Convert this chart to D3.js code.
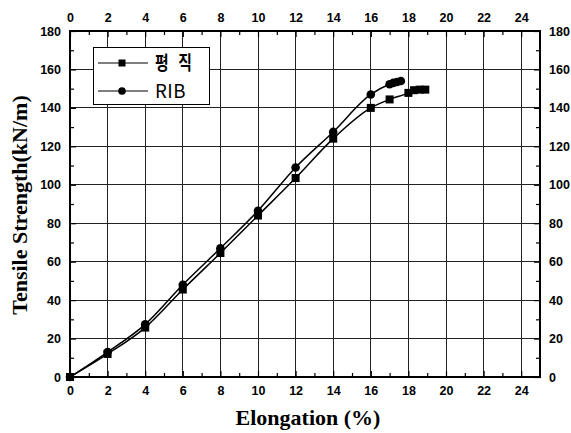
<!DOCTYPE html>
<html>
<head>
<meta charset="utf-8">
<script src="https://cdn.jsdelivr.net/npm/d3@7"></script>
<style>
  body { margin: 0; background: #fff; }
  .tick text { font-family: "Liberation Sans", Arial, sans-serif; font-weight: bold; font-size: 12.5px; }
</style>
</head>
<body>
<div id="chart"></div>
<script>
// data
const plainX = [0, 2, 4, 6, 8, 10, 12, 14, 16, 17, 18, 18.3, 18.6, 18.9];
const plainY = [0, 12, 25.7, 45.5, 64.5, 84, 103.5, 124, 140, 144.4, 147.8, 149.2, 149.5, 149.5];
const ribX = [0, 2, 4, 6, 8, 10, 12, 14, 16, 17, 17.2, 17.4, 17.6];
const ribY = [0, 13, 27.4, 48, 67, 86.5, 109, 127.5, 147, 152.3, 153, 153.5, 154];
const seriesNames = ["평 직", "RIB"];
const xTicks = d3.range(0, 25, 2);
const yTicks = d3.range(0, 181, 20);

const W = 571, H = 433;
const pLeft = 70, pRight = 540, pTop = 31, pBottom = 377;

const svg = d3.select("#chart").append("svg")
  .attr("width", W).attr("height", H);

const x = d3.scaleLinear().domain([0, 25]).range([pLeft, pRight]);
const y = d3.scaleLinear().domain([0, 180]).range([pBottom, pTop]);

// grid
const grid = svg.append("g").attr("shape-rendering", "crispEdges");
grid.selectAll(".vg").data(xTicks.slice(1)).join("line")
  .attr("x1", d => x(d)).attr("x2", d => x(d))
  .attr("y1", pTop).attr("y2", pBottom)
  .attr("stroke", "#222").attr("stroke-width", 1);
grid.selectAll(".hg").data(yTicks.slice(1, -1)).join("line")
  .attr("y1", d => y(d)).attr("y2", d => y(d))
  .attr("x1", pLeft).attr("x2", pRight)
  .attr("stroke", "#222").attr("stroke-width", 1);

// axes, ticks pointing inward
const xMinor = d3.range(1, 25, 2);
const yMinor = d3.range(10, 180, 20);

function axis(gen, tr, major, minor) {
  const g = svg.append("g").attr("transform", tr);
  g.call(gen().tickValues(major).tickSize(-6).tickPadding(9).tickSizeOuter(0));
  g.select(".domain").remove();
  const mg = svg.append("g").attr("transform", tr);
  mg.call(gen().tickValues(minor).tickSize(-4).tickFormat("").tickSizeOuter(0));
  mg.select(".domain").remove();
  g.selectAll(".tick line").attr("stroke-width", 1.2);
  mg.selectAll(".tick line").attr("stroke-width", 1.2);
}
axis(() => d3.axisBottom(x), `translate(0,${pBottom})`, xTicks, xMinor);
axis(() => d3.axisTop(x), `translate(0,${pTop})`, xTicks, xMinor);
axis(() => d3.axisLeft(y), `translate(${pLeft},0)`, yTicks, yMinor);
axis(() => d3.axisRight(y), `translate(${pRight},0)`, yTicks, yMinor);

svg.append("rect")
  .attr("x", pLeft).attr("y", pTop)
  .attr("width", pRight - pLeft).attr("height", pBottom - pTop)
  .attr("fill", "none").attr("stroke", "#000").attr("stroke-width", 2);

// curves
const line = d3.line().x(d => x(d[0])).y(d => y(d[1])).curve(d3.curveMonotoneX);
const plain = plainX.map((v, i) => [v, plainY[i]]);
const rib = ribX.map((v, i) => [v, ribY[i]]);

svg.append("path").datum(plain).attr("d", line)
  .attr("fill", "none").attr("stroke", "#000").attr("stroke-width", 1.5);
svg.append("path").datum(rib).attr("d", line)
  .attr("fill", "none").attr("stroke", "#000").attr("stroke-width", 1.5);

svg.selectAll(".sq").data(plain).join("rect")
  .attr("x", d => x(d[0]) - 4).attr("y", d => y(d[1]) - 4)
  .attr("width", 8).attr("height", 8).attr("fill", "#000");
svg.selectAll(".ci").data(rib).join("circle")
  .attr("cx", d => x(d[0])).attr("cy", d => y(d[1]))
  .attr("r", 4.3).attr("fill", "#000");

// legend
const lg = svg.append("g");
lg.append("rect").attr("x", 93.5).attr("y", 47.5).attr("width", 116).attr("height", 57)
  .attr("fill", "#fff").attr("stroke", "#000").attr("stroke-width", 1);
[0, 1].forEach(i => {
  const ly = 63 + i * 28;
  lg.append("line").attr("x1", 98).attr("x2", 148).attr("y1", ly).attr("y2", ly)
    .attr("stroke", "#000").attr("stroke-width", 1.2);
  if (i === 0) {
    lg.append("rect").attr("x", 118.5).attr("y", ly - 3.5).attr("width", 7).attr("height", 7).attr("fill", "#000");
  } else {
    lg.append("circle").attr("cx", 122).attr("cy", ly).attr("r", 3.8).attr("fill", "#000");
  }
  lg.append("text").attr("x", 155).attr("y", ly + 7)
    .attr("font-family", "'Noto Sans CJK KR', sans-serif")
    .attr("font-size", 19).attr("font-weight", i === 0 ? "bold" : "normal")
    .attr("letter-spacing", i === 0 ? 4 : 0.5)
    .attr("textLength", i === 0 ? 40 : 31).attr("lengthAdjust", "spacingAndGlyphs")
    .text(seriesNames[i]);
});

// axis titles
svg.append("text").attr("x", 308).attr("y", 425).attr("text-anchor", "middle")
  .attr("font-family", "'Liberation Serif', 'Times New Roman', serif")
  .attr("font-weight", "bold").attr("font-size", 22)
  .text("Elongation (%)");
svg.append("text").attr("transform", "translate(27,205) rotate(-90)")
  .attr("text-anchor", "middle")
  .attr("font-family", "'Liberation Serif', 'Times New Roman', serif")
  .attr("font-weight", "bold").attr("font-size", 22)
  .text("Tensile Strength(kN/m)");
</script>
</body>
</html>
